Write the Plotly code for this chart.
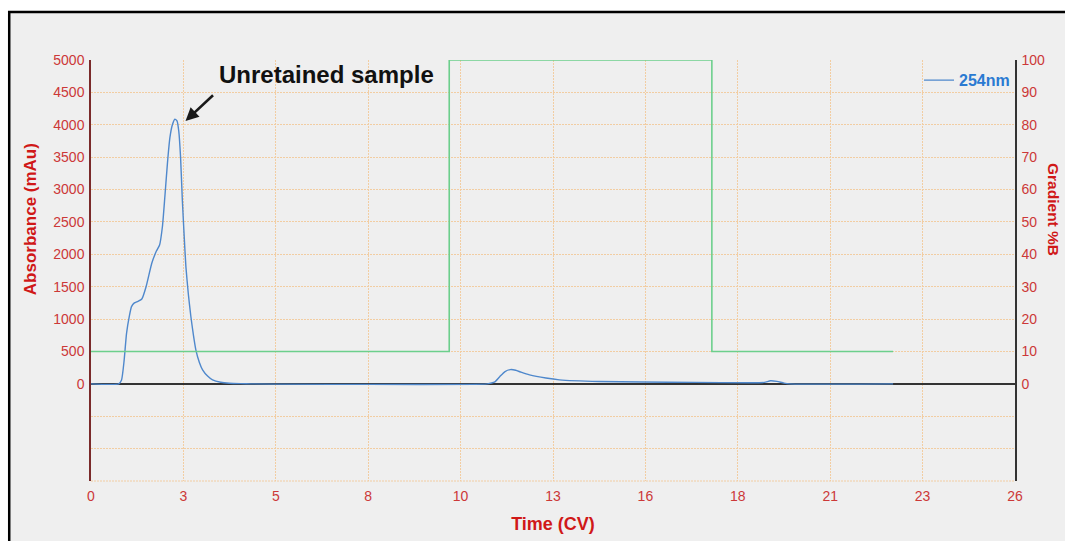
import plotly.graph_objects as go

# ---- data ----
time_254 = [0, 0.78, 0.86, 0.93, 1.00, 1.08, 1.14, 1.22, 1.32, 1.43, 1.55, 1.71, 1.84, 1.93,
            2.01, 2.08, 2.15, 2.22, 2.29, 2.36, 2.42, 2.47, 2.52, 2.57, 2.62, 2.67, 2.74,
            2.81, 2.88, 2.95, 3.05, 3.14, 3.28, 3.42, 3.65, 3.89, 4.2, 4.5,
            11.15, 11.35, 11.5, 11.65, 11.8, 11.95, 12.1, 12.34, 12.8, 13.18, 14.3, 15.5,
            17.0, 18.5, 18.95, 19.12, 19.3, 19.5, 19.66, 22.57]
abs_254 = [0, 0, 60, 350, 780, 1050, 1193, 1250, 1275, 1310, 1500, 1862, 2050, 2145,
           2430, 2900, 3400, 3800, 4000, 4085, 4060, 3900, 3500, 2840, 2300, 1810, 1380,
           1040, 760, 525, 330, 216, 120, 62, 25, 10, 3, 0,
           0, 25, 110, 190, 220, 210, 180, 139, 90, 62, 36, 28,
           22, 16, 22, 48, 38, 12, 0, 0]

time_grad = [0, 10.08, 10.08, 17.47, 17.47, 22.57]
pct_b = [10, 10, 100, 100, 10, 10]

x_tickvals = [0, 2.6, 5.2, 7.8, 10.4, 13.0, 15.6, 18.2, 20.8, 23.4, 26.0]
x_ticktext = ["0", "3", "5", "8", "10", "13", "16", "18", "21", "23", "26"]
y_tickvals = [-1500, -1000, -500, 0, 500, 1000, 1500, 2000, 2500, 3000, 3500, 4000, 4500, 5000]
y_ticktext = ["", "", "", "0", "500", "1000", "1500", "2000", "2500", "3000", "3500", "4000", "4500", "5000"]
y2_tickvals = [0, 10, 20, 30, 40, 50, 60, 70, 80, 90, 100]

FONT = "Liberation Sans, Arial, Helvetica, sans-serif"
TICK_RED = "#cc3838"
TITLE_RED = "#d01818"
GRID = "#f2cda2"
GRID_DASH = "2px,1px"
BG = "#efefef"

fig = go.Figure()
fig.add_trace(go.Scatter(x=time_grad, y=pct_b, yaxis="y2", mode="lines",
                         line=dict(color="#6ccf8c", width=1.6), showlegend=False,
                         name="%B"))
fig.add_trace(go.Scatter(x=time_254, y=abs_254, mode="lines", name="<b>254nm</b>",
                         line=dict(color="#4f88cc", width=1.4, shape="spline", smoothing=0.5)))

fig.update_layout(
    width=1065, height=541,
    margin=dict(l=91, r=50, t=60, b=60, autoexpand=False),
    paper_bgcolor="white", plot_bgcolor=BG,
    font=dict(family=FONT, color=TICK_RED, size=14),
    xaxis=dict(range=[0, 26], tickvals=x_tickvals, ticktext=x_ticktext, automargin=False,
               showgrid=True, gridcolor=GRID, griddash=GRID_DASH, gridwidth=1,
               zeroline=False, showline=False, ticks="", ticklabelstandoff=5,
               tickfont=dict(size=14, color=TICK_RED),
               title=dict(text="<b>Time (CV)</b>", font=dict(size=18, color=TITLE_RED), standoff=14)),
    yaxis=dict(range=[-1500, 5000], tickvals=y_tickvals, ticktext=y_ticktext, automargin=False,
               showgrid=True, gridcolor=GRID, griddash=GRID_DASH, gridwidth=1,
               zeroline=True, zerolinecolor="#333333", zerolinewidth=1.5,
               showline=True, linecolor="#7a2a2a", linewidth=1.5, ticks="",
               ticklabelstandoff=2, tickfont=dict(size=14, color=TICK_RED)),
    yaxis2=dict(range=[-30, 100], tickvals=y2_tickvals, overlaying="y", side="right",
                automargin=False,
                showgrid=False, zeroline=False, showline=True, linecolor="#333333",
                linewidth=1.5, ticks="", ticklabelstandoff=2,
                tickfont=dict(size=14, color=TICK_RED)),
    legend=dict(x=1.0, y=0.952, xanchor="right", yanchor="middle",
                bgcolor="rgba(0,0,0,0)", font=dict(size=16, color="#2a7ad2", family=FONT),
                itemwidth=30),
    showlegend=True,
)

# framed background (left/top border visible)
fig.add_shape(type="rect", xref="paper", yref="paper",
              x0=-0.0885, x1=1.2, y0=-0.4, y1=1.114,
              line=dict(color="black", width=2.5), fillcolor=BG, layer="below")
# dotted bottom edge of plot area
fig.add_shape(type="line", xref="paper", yref="paper", x0=0, x1=1, y0=0, y1=0,
              line=dict(color=GRID, width=1, dash=GRID_DASH), layer="below")

# left axis title (reads bottom-to-top), centred on the positive range
fig.add_annotation(xref="paper", yref="paper", x=-0.066, y=0.622,
                   xanchor="center", yanchor="middle",
                   text="<b>Absorbance (mAu)</b>", textangle=-90, showarrow=False,
                   font=dict(size=17, color=TITLE_RED, family=FONT))
# right axis title (reads top-to-bottom)
fig.add_annotation(xref="paper", yref="paper", x=1.0, y=0.646, xshift=39,
                   xanchor="center", yanchor="middle",
                   text="<b>Gradient %B</b>", textangle=90, showarrow=False,
                   font=dict(size=15.5, color=TITLE_RED, family=FONT))

# peak label with arrow
fig.add_annotation(x=6.62, y=4770, text="<b>Unretained sample</b>", showarrow=False,
                   font=dict(size=24, color="#111111", family=FONT))
fig.add_annotation(x=2.66, y=4060, text="", showarrow=True, ax=29, ay=-27,
                   arrowhead=2, arrowsize=1, arrowwidth=2.6, arrowcolor="#1a1a1a")

fig.write_html("out.html", config={"displayModeBar": False},
               post_script="document.body.style.margin='0';document.body.style.overflow='hidden';")
